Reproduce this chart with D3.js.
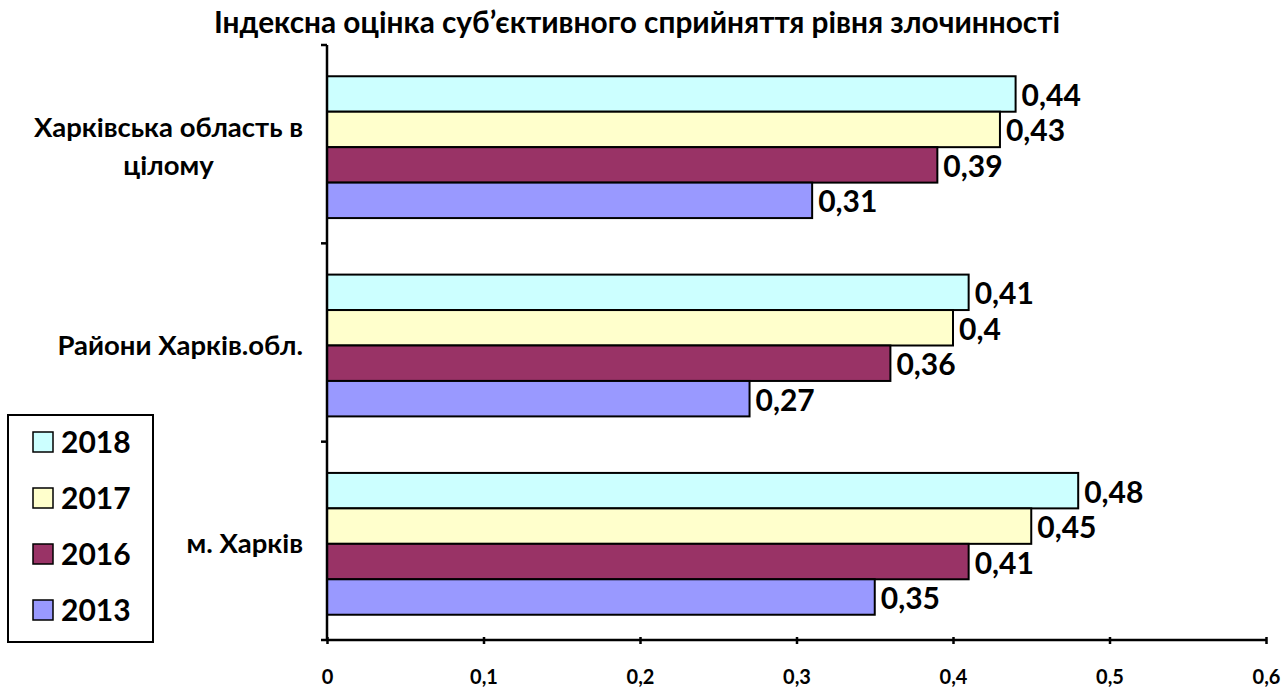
<!DOCTYPE html>
<html>
<head>
<meta charset="utf-8">
<script src="https://cdn.jsdelivr.net/npm/d3@7"></script>
<style>
  body { margin: 0; background: #fff; }
  text { font-family: Lato, "Open Sans", sans-serif; font-weight: bold; }
</style>
</head>
<body>
<div id="graph"></div>
<script>
//data
var categories = [["Харківська область в", "цілому"], ["Райони Харків.обл."], ["м. Харків"]];
var years = ["2018", "2017", "2016", "2013"];
var colors = ["#CCFFFF", "#FFFFCC", "#993366", "#9999FF"];
var values2018 = [0.44, 0.41, 0.48];
var values2017 = [0.43, 0.4, 0.45];
var values2016 = [0.39, 0.36, 0.41];
var values2013 = [0.31, 0.27, 0.35];
var tickValues = [0, 0.1, 0.2, 0.3, 0.4, 0.5, 0.6];
var title = "Індексна оцінка суб’єктивного сприйняття рівня злочинності";

//measurements
var width = 1283;
var height = 688;
var margin = { top: 45, right: 17, bottom: 48, left: 327 };
var chartWidth = width - margin.left - margin.right;
var chartHeight = height - margin.top - margin.bottom;

var series = [values2018, values2017, values2016, values2013];
var fmt = function (v) { return String(v).replace(".", ","); };

var svg = d3.select("#graph").append("svg")
    .attr("width", width)
    .attr("height", height);

var plot = svg.append("g")
    .attr("transform", "translate(" + margin.left + "," + margin.top + ")");

var xScale = d3.scaleLinear().domain([0, 0.6]).range([0, chartWidth]);
var yScale = d3.scaleBand().domain(d3.range(categories.length)).range([0, chartHeight])
    .paddingInner(0.285).paddingOuter(0.1425);
var ySub = d3.scaleBand().domain(d3.range(years.length)).range([0, yScale.bandwidth()]);

// title
svg.append("text")
    .attr("x", 637)
    .attr("y", 33)
    .attr("text-anchor", "middle")
    .style("font-size", "29.8px")
    .text(title);

// bars
categories.forEach(function (c, ci) {
    var g = plot.append("g").attr("transform", "translate(0," + (yScale(ci) + 3) + ")");
    series.forEach(function (vals, si) {
        g.append("rect")
            .attr("x", 0)
            .attr("y", ySub(si))
            .attr("width", xScale(vals[ci]))
            .attr("height", ySub.bandwidth())
            .style("fill", colors[si])
            .style("stroke", "#000")
            .style("stroke-width", 2);
        g.append("text")
            .attr("x", xScale(vals[ci]) + 6)
            .attr("y", ySub(si) + ySub.bandwidth() / 2 + 12)
            .style("font-size", "30px")
            .text(fmt(vals[ci]));
    });
});

// x axis
var xAxis = d3.axisBottom(xScale).tickValues(tickValues).tickSize(6).tickFormat(fmt);
var xg = plot.append("g")
    .attr("transform", "translate(0," + chartHeight + ")")
    .call(xAxis);
xg.attr("font-size", 20).attr("font-family", "Lato, sans-serif");
xg.select(".domain").attr("d", "M0,0H" + chartWidth).style("stroke-width", 2.5);
xg.selectAll(".tick line").style("stroke-width", 2.5).attr("y1", -3).attr("y2", 4);
xg.selectAll(".tick text").attr("y", 30);

// y axis
var yTicks = d3.range(categories.length + 1).map(function (i) { return i * chartHeight / categories.length; });
plot.append("line")
    .attr("x1", 0).attr("x2", 0).attr("y1", 0).attr("y2", chartHeight)
    .style("stroke", "#000").style("stroke-width", 2.5);
plot.selectAll(".ytick").data(yTicks).enter().append("line")
    .attr("class", "ytick")
    .attr("x1", -6).attr("x2", 0)
    .attr("y1", function (d) { return d; }).attr("y2", function (d) { return d; })
    .style("stroke", "#000").style("stroke-width", 2.5);

// category labels
categories.forEach(function (lines, ci) {
    var cy = margin.top + yScale(ci) + yScale.bandwidth() / 2 + 3;
    var g = svg.append("g");
    var t0 = g.append("text").style("font-size", "27.5px").text(lines[0]);
    var w0 = t0.node().getComputedTextLength();
    var cx = 303 - w0 / 2;
    var lh = 38;
    var y0 = cy - (lines.length - 1) * lh / 2 + 9;
    t0.attr("x", cx).attr("y", y0).attr("text-anchor", "middle");
    for (var i = 1; i < lines.length; i++) {
        g.append("text")
            .attr("x", cx).attr("y", y0 + i * lh)
            .attr("text-anchor", "middle")
            .style("font-size", "27.5px")
            .text(lines[i]);
    }
});

// legend
var legend = svg.append("g").attr("transform", "translate(8,415)");
legend.append("rect")
    .attr("width", 145).attr("height", 227)
    .style("fill", "#fff").style("stroke", "#000").style("stroke-width", 2);
years.forEach(function (yr, i) {
    var ly = 27 + i * 56;
    legend.append("rect")
        .attr("x", 25).attr("y", ly - 10)
        .attr("width", 20).attr("height", 20)
        .style("fill", colors[i]).style("stroke", "#000").style("stroke-width", 1.5);
    legend.append("text")
        .attr("x", 53).attr("y", ly + 11)
        .style("font-size", "30px")
        .text(yr);
});
</script>
</body>
</html>
